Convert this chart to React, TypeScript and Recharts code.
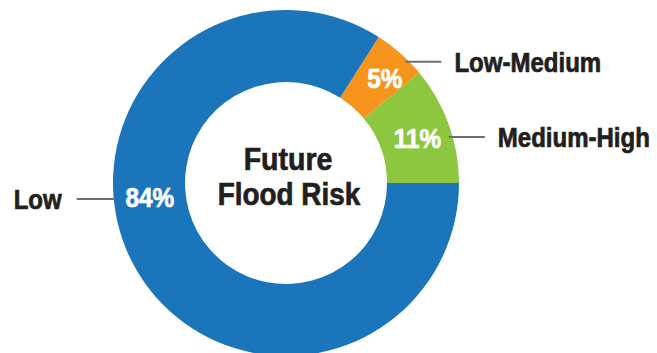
import { PieChart, Pie, Cell } from "recharts";

const CATEGORIES = ["Medium-High", "Low-Medium", "Low"];
const SHARES = [11, 5, 84];
const COLORS = ["#8dc63f", "#f7941d", "#1b75bb"];
const TITLE = ["Future", "Flood Risk"];

// where the leader line leaves each slice, and where the % sits (degrees, ccw from 3 o'clock)
const LEADER_ANGLES = [15.4, 44.5, 185.3];
const PCT_ANGLES = [19, 46.7, 186];
const PCT_RADII = [139, 144, 137];

const data = CATEGORIES.map((name, i) => ({ name, value: SHARES[i] }));

const FONT = "'Liberation Sans', Arial, sans-serif";
const RAD = Math.PI / 180;

// condensed heavy look: squeeze Liberation Sans Bold and thicken it a bit
function NarrowText({ x, y, anchor = "middle", size, fill, sx = 0.89, children }: any) {
  return (
    <text
      transform={`translate(${x},${y}) scale(${sx},1)`}
      textAnchor={anchor}
      fill={fill}
      stroke={fill}
      strokeWidth={0.7}
      fontFamily={FONT}
      fontWeight="bold"
      fontSize={size}
    >
      {children}
    </text>
  );
}

function renderLabel(props: any) {
  const { cx, cy, outerRadius, index } = props;
  const a = LEADER_ANGLES[index] * RAD;
  const ly = cy - outerRadius * Math.sin(a);
  const edgeX = cx + outerRadius * Math.cos(a);
  const right = Math.cos(a) > 0;
  const x1 = right ? edgeX - 4 : edgeX + 1;
  const x2 = right ? x1 + 36 : x1 - 38;
  const tx = right ? x2 + 13 : x2 - 15;

  const pa = PCT_ANGLES[index] * RAD;
  const px = cx + PCT_RADII[index] * Math.cos(pa);
  const py = cy - PCT_RADII[index] * Math.sin(pa);

  return (
    <g key={`lbl-${index}`}>
      <line x1={x1} y1={ly} x2={x2} y2={ly} stroke="#6d6e71" strokeWidth={2} />
      <NarrowText x={tx} y={ly + 10} anchor={right ? "start" : "end"} size={27} fill="#231f20">
        {CATEGORIES[index]}
      </NarrowText>
      <NarrowText x={px} y={py + 10} size={28} fill="#ffffff" sx={0.87}>
        {SHARES[index]}%
      </NarrowText>
      {index === 0 && (
        <g>
          <NarrowText x={cx + 2} y={cy - 13} size={31} fill="#231f20" sx={0.92}>
            {TITLE[0]}
          </NarrowText>
          <NarrowText x={cx + 3} y={cy + 22} size={31} fill="#231f20" sx={0.9}>
            {TITLE[1]}
          </NarrowText>
        </g>
      )}
    </g>
  );
}

export default function App() {
  return (
    <div style={{ position: "absolute", left: 0, top: 0, width: 657, height: 353, background: "#fff" }}>
      <PieChart width={657} height={353} margin={{ top: 0, right: 0, bottom: 0, left: 0 }}>
        <Pie
          data={data}
          dataKey="value"
          nameKey="name"
          cx={286}
          cy={183}
          innerRadius={101}
          outerRadius={173}
          startAngle={0}
          endAngle={360}
          stroke="none"
          labelLine={false}
          label={renderLabel}
          isAnimationActive={false}
        >
          {data.map((_, i) => (
            <Cell key={i} fill={COLORS[i]} />
          ))}
        </Pie>
      </PieChart>
    </div>
  );
}
